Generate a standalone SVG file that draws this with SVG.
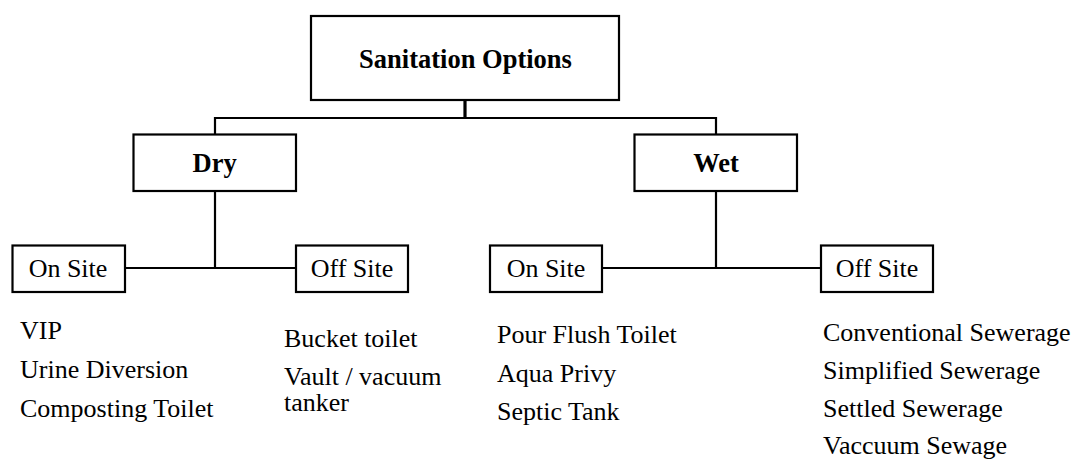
<svg xmlns="http://www.w3.org/2000/svg" width="1077" height="459" viewBox="0 0 1077 459">
<style>
.box{fill:#fff;stroke:#000;stroke-width:2.2}
.ln{fill:none;stroke:#000;stroke-width:2.2}
.b{font-family:"Liberation Serif","Times New Roman",serif;font-weight:bold;font-size:26.5px;text-anchor:middle;fill:#000}
.t{font-family:"Liberation Serif","Times New Roman",serif;font-size:26px;fill:#000}
.c{text-anchor:middle}
</style>
<rect width="1077" height="459" fill="#fff"/>
<g id="connectors">
<line class="ln" x1="465" y1="100" x2="465" y2="118" style="stroke-width:3.2"/>
<polyline class="ln" points="215,134.5 215,118 716,118 716,134.5"/>
<line class="ln" x1="215" y1="191" x2="215" y2="268"/>
<line class="ln" x1="125" y1="268" x2="296" y2="268"/>
<line class="ln" x1="716" y1="191" x2="716" y2="268"/>
<line class="ln" x1="602" y1="268" x2="821" y2="268"/>
</g>
<g id="root">
<rect class="box" x="311" y="16" width="308" height="84"/>
<text class="b" x="465.5" y="68">Sanitation Options</text>
</g>
<g id="dry">
<rect class="box" x="133.5" y="134.5" width="162.5" height="56.5"/>
<text class="b" x="214.7" y="172">Dry</text>
</g>
<g id="wet">
<rect class="box" x="634.5" y="134.5" width="162.5" height="56.5"/>
<text class="b" x="716" y="172">Wet</text>
</g>
<g id="dry-onsite">
<rect class="box" x="12.5" y="245.5" width="112.5" height="46.5"/>
<text class="t c" x="68" y="277">On Site</text>
</g>
<g id="dry-offsite">
<rect class="box" x="296" y="245.5" width="112" height="46.5"/>
<text class="t c" x="352" y="277">Off Site</text>
</g>
<g id="wet-onsite">
<rect class="box" x="490" y="245.5" width="112" height="46.5"/>
<text class="t c" x="546" y="277">On Site</text>
</g>
<g id="wet-offsite">
<rect class="box" x="821" y="245.5" width="112" height="46.5"/>
<text class="t c" x="877" y="277">Off Site</text>
</g>
<g id="dry-onsite-list">
<text class="t" x="20" y="338.5">VIP</text>
<text class="t" x="20" y="378">Urine Diversion</text>
<text class="t" x="20" y="416.5">Composting Toilet</text>
</g>
<g id="dry-offsite-list">
<text class="t" x="284" y="346.5">Bucket toilet</text>
<text class="t" x="284" y="384.5">Vault / vacuum</text>
<text class="t" x="284" y="411">tanker</text>
</g>
<g id="wet-onsite-list">
<text class="t" x="497" y="343">Pour Flush Toilet</text>
<text class="t" x="497" y="382">Aqua Privy</text>
<text class="t" x="497" y="420">Septic Tank</text>
</g>
<g id="wet-offsite-list">
<text class="t" x="823" y="340.5">Conventional Sewerage</text>
<text class="t" x="823" y="379">Simplified Sewerage</text>
<text class="t" x="823" y="416.5">Settled Sewerage</text>
<text class="t" x="823" y="454">Vaccuum Sewage</text>
</g>
</svg>
